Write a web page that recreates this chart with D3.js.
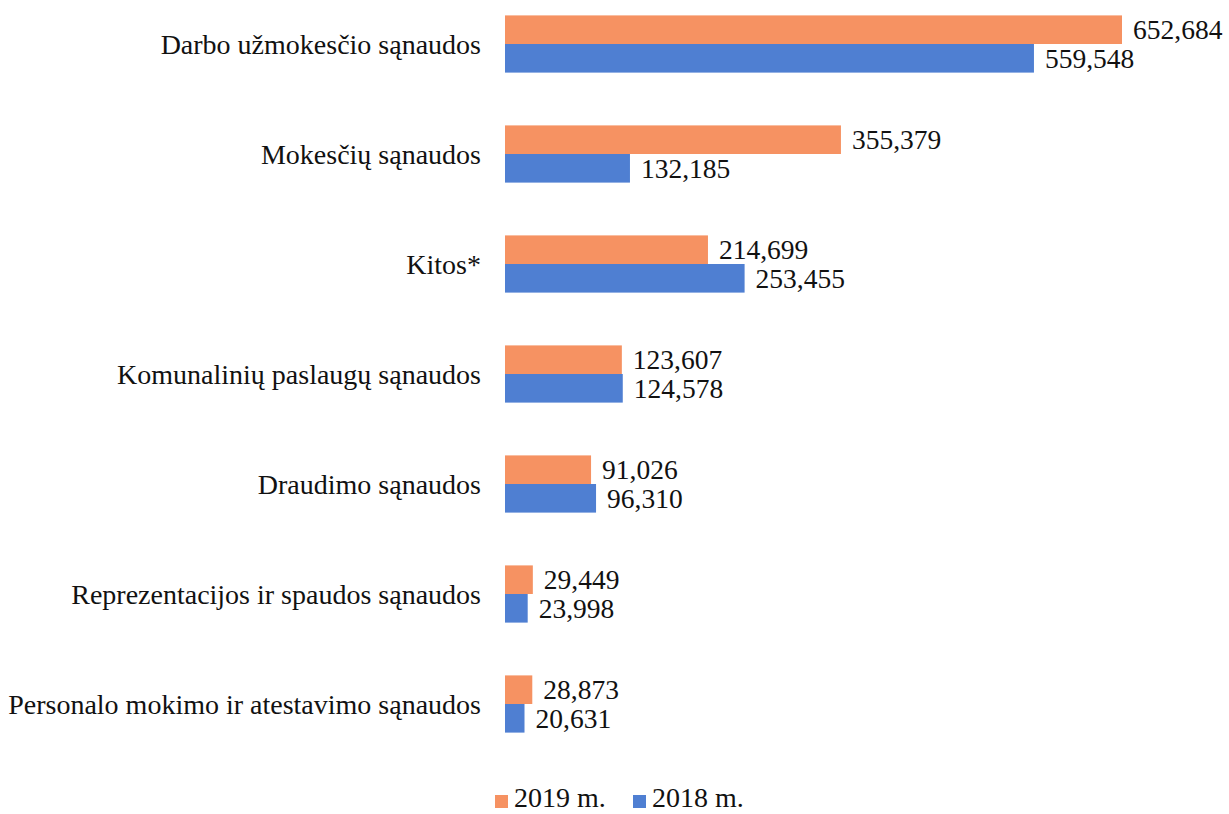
<!DOCTYPE html>
<html><head><meta charset="utf-8">
<script src="https://cdn.jsdelivr.net/npm/d3@7"></script>
<style>body{margin:0;background:#fff}svg{display:block}</style>
</head><body>
<script>
const categories = ["Darbo užmokesčio sąnaudos","Mokesčių sąnaudos","Kitos*","Komunalinių paslaugų sąnaudos","Draudimo sąnaudos","Reprezentacijos ir spaudos sąnaudos","Personalo mokimo ir atestavimo sąnaudos"];
const values2019 = [652684,355379,214699,123607,91026,29449,28873];
const values2018 = [559548,132185,253455,124578,96310,23998,20631];
const seriesNames = ["2019 m.","2018 m."];
const colors = ["#F69262","#4F7FD2"];

const W=1229,H=814;
const svg=d3.select("body").append("svg").attr("width",W).attr("height",H);
const font="'Liberation Serif','Times New Roman',serif";
const fs=28, vfs=27.5;
const x=d3.scaleLinear().domain([0,652684]).range([505,1122]);
const y=d3.scaleBand().domain(categories).range([-11,759]).paddingInner(0.48).paddingOuter(0.24);
const sub=d3.scaleBand().domain([0,1]).range([0,y.bandwidth()]);
const fmt=d3.format(",");
const series=[values2019,values2018];

categories.forEach((c,i)=>{
  const g=svg.append("g").attr("transform",`translate(0,${y(c)})`);
  series.forEach((vals,s)=>{
    g.append("rect").attr("x",x(0)).attr("y",sub(s)).attr("width",x(vals[i])-x(0)).attr("height",sub.bandwidth())
      .attr("fill",colors[s]);
    g.append("text").attr("x",x(vals[i])+11).attr("y",sub(s)+sub.bandwidth()/2).attr("dy","0.35em")
      .attr("font-family",font).attr("font-size",vfs).attr("fill","#111").text(fmt(vals[i]));
  });
  g.append("text").attr("x",481).attr("y",y.bandwidth()/2).attr("dy","0.35em").attr("text-anchor","end")
    .attr("font-family",font).attr("font-size",fs).attr("fill","#111").text(c);
});

const lg=svg.append("g");
const legX=[495,633];
seriesNames.forEach((n,s)=>{
  lg.append("rect").attr("x",legX[s]).attr("y",795).attr("width",13).attr("height",13).attr("fill",colors[s]);
  lg.append("text").attr("x",legX[s]+19).attr("y",807).attr("font-family",font).attr("font-size",fs).attr("fill","#111").text(n);
});
</script>
</body></html>
